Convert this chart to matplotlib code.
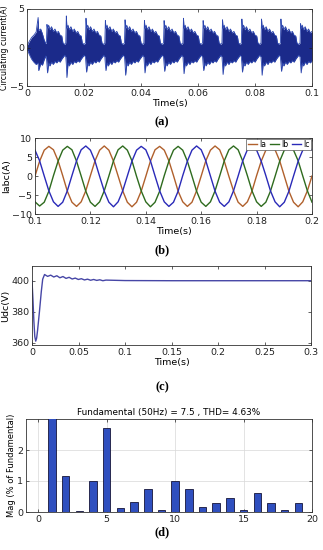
import numpy as np
import matplotlib
matplotlib.use("Agg")
import matplotlib.pyplot as plt

# ---------------- data ----------------
# (a) circulating current: envelope of the dense oscillation
head_t = [0.0, 0.0008, 0.0016, 0.0024, 0.0032, 0.0039, 0.0041, 0.0048, 0.0054, 0.0060, 0.0066]
head_up = [0.2, 0.8, 1.3, 1.6, 2.0, 3.9, 2.2, 2.4, 1.8, 1.0, 0.5]
head_lo = [-0.2, -0.9, -1.5, -1.9, -2.2, -2.0, -3.0, -2.1, -2.3, -1.6, -1.1]
burst_start = [0.0068, 0.0136, 0.0205, 0.0273, 0.0342, 0.0410, 0.0479, 0.0547,
               0.0616, 0.0684, 0.0752, 0.0821, 0.0889, 0.0958]
burst_peak = [3.0, 4.1, 3.8, 3.5, 3.6, 3.5, 3.5, 3.8, 3.5, 3.6, 3.7, 3.7, 3.7, 3.1]
burst_dip = [-3.3, -3.9, -3.2, -3.0, -3.6, -3.3, -3.1, -3.4, -3.0, -3.5, -3.2, -3.6, -3.1, -3.3]
# typical burst shape (offset in s, upper, lower)
shape_dt = [0.0000, 0.0002, 0.0004, 0.0008, 0.0012, 0.0018, 0.0024, 0.0030,
            0.0036, 0.0042, 0.0048, 0.0054, 0.0058, 0.0064]
shape_up = [0.6, None, 2.5, 2.9, 2.3, 2.7, 2.1, 2.4, 1.9, 2.1, 1.6, 1.5, 0.6, 0.4]
shape_lo = [-1.2, -2.2, None, -2.0, -2.4, -1.9, -2.2, -1.8, -2.0, -1.7, -1.9, -1.5, -1.3, -1.0]

# (b) three-phase currents, sampled every 1/600 s from 0.1 s
t_b = [0.1 + k / 600 for k in range(61)]
ia = [0.0, 3.9, 6.8, 7.8, 6.9, 4.0, 0.1, -4.0, -6.9, -8.0, -6.8, -3.9,
      0.1, 4.0, 6.8, 7.9, 6.8, 3.9, 0.0, -3.9, -6.9, -8.1, -6.9, -4.0,
      -0.1, 3.9, 6.9, 7.8, 6.8, 4.0, 0.1, -4.0, -6.8, -8.0, -6.9, -3.9,
      0.0, 4.0, 6.8, 7.9, 6.9, 3.9, -0.1, -3.9, -6.9, -8.0, -6.8, -4.0,
      0.1, 3.9, 6.8, 7.8, 6.9, 4.0, 0.0, -4.0, -6.9, -8.1, -6.8, -3.9, 0.0]
ib = [-6.8, -7.9, -6.9, -4.0, 0.1, 3.9, 6.8, 7.8, 6.9, 3.9, 0.0, -4.0,
      -6.9, -8.0, -6.8, -3.9, 0.0, 4.0, 6.9, 7.9, 6.8, 4.0, -0.1, -3.9,
      -6.8, -8.1, -6.9, -4.0, 0.1, 3.9, 6.8, 7.8, 6.8, 3.9, 0.0, -4.0,
      -6.9, -8.0, -6.8, -3.9, 0.0, 4.0, 6.9, 7.9, 6.9, 3.9, 0.1, -3.9,
      -6.8, -8.0, -6.9, -4.0, -0.1, 3.9, 6.8, 7.8, 6.8, 4.0, 0.0, -3.9, -6.9]
ic = [6.8, 4.0, 0.0, -3.9, -6.8, -8.0, -6.9, -3.9, 0.1, 4.0, 6.9, 7.9,
      6.8, 3.9, -0.1, -4.0, -6.9, -8.1, -6.8, -3.9, 0.0, 3.9, 6.8, 7.8,
      6.9, 4.0, 0.0, -3.9, -6.8, -8.0, -6.9, -4.0, 0.1, 3.9, 6.8, 7.9,
      6.9, 4.0, 0.0, -4.0, -6.9, -8.0, -6.8, -3.9, 0.0, 4.0, 6.9, 7.8,
      6.8, 3.9, 0.1, -3.9, -6.8, -8.1, -6.9, -4.0, 0.0, 3.9, 6.8, 7.9, 6.8]

# (c) dc-link voltage
t_c = [0.0, 0.001, 0.002, 0.003, 0.004, 0.005, 0.006, 0.008, 0.010, 0.0115, 0.0135,
       0.0168, 0.0201, 0.0234, 0.0267, 0.0300, 0.0333, 0.0366, 0.0399, 0.0432,
       0.0465, 0.0498, 0.0531, 0.0564, 0.0597, 0.0630, 0.0663, 0.0696, 0.0729,
       0.0762, 0.0795, 0.1, 0.15, 0.2, 0.25, 0.3]
udc = [400.0, 388.0, 374.0, 364.0, 361.0, 363.0, 368.0, 380.0, 393.0, 401.0, 404.0,
       402.8, 403.6, 402.4, 403.2, 401.9, 402.7, 401.5, 402.2, 401.1, 401.7, 400.8,
       401.3, 400.5, 401.0, 400.3, 400.8, 400.2, 400.6, 400.0, 400.4, 400.1, 400.0,
       400.0, 400.0, 400.0]

# (d) harmonic spectrum
harm = list(range(20))
mag = [0.01, 100.0, 1.15, 0.03, 1.0, 2.7, 0.13, 0.33, 0.73, 0.05,
       1.0, 0.73, 0.17, 0.28, 0.46, 0.08, 0.62, 0.3, 0.05, 0.3]

# ---------------- figure ----------------
W, H = 323, 550
fig = plt.figure(figsize=(W / 100, H / 100), dpi=100)
fs = 6.8


def box(l, t, r, b):
    return [l / W, 1 - b / H, (r - l) / W, (b - t) / H]


def style(ax):
    ax.tick_params(direction="in", length=2.5, width=0.5, labelsize=fs, pad=2,
                   top=True, right=True, colors="#222222")
    for s in ax.spines.values():
        s.set_linewidth(0.6)
        s.set_color("#333333")


def fmt(v):
    return "%g" % v


# (a)
ax1 = fig.add_axes(box(27, 9, 312, 86))
env_t, env_up, env_lo = list(head_t), list(head_up), list(head_lo)
for t0, pk, dp in zip(burst_start, burst_peak, burst_dip):
    for dt, u, lo in zip(shape_dt, shape_up, shape_lo):
        env_t.append(t0 + dt)
        env_up.append(pk if u is None else u)
        env_lo.append(dp if lo is None else lo)
ax1.fill_between(env_t, env_lo, env_up, color="#1b2a8a", lw=0)
ax1.plot(env_t, env_up, color="#2b46b0", lw=0.6)
ax1.plot(env_t, env_lo, color="#2b46b0", lw=0.6)
ax1.set_xlim(0, 0.1)
ax1.set_ylim(-5, 5)
ax1.set_yticks([-5, 0, 5])
xt = [0, 0.02, 0.04, 0.06, 0.08, 0.1]
ax1.set_xticks(xt, [fmt(v) for v in xt])
ax1.set_ylabel("Circulating current(A)", fontsize=5.6, labelpad=1)
ax1.set_xlabel("Time(s)", fontsize=fs, labelpad=1)
style(ax1)

# (b)
ax2 = fig.add_axes(box(35, 138, 312, 214))
ax2.plot(t_b, ia, color="#b0602c", lw=1.0, label="Ia")
ax2.plot(t_b, ib, color="#2e6b1e", lw=1.0, label="Ib")
ax2.plot(t_b, ic, color="#2a2ab8", lw=1.0, label="Ic")
ax2.set_xlim(0.1, 0.2)
ax2.set_ylim(-10, 10)
ax2.set_yticks([-10, -5, 0, 5, 10])
xt = [0.1, 0.12, 0.14, 0.16, 0.18, 0.2]
ax2.set_xticks(xt, [fmt(v) for v in xt])
ax2.set_ylabel("Iabc(A)", fontsize=fs, labelpad=1)
ax2.set_xlabel("Time(s)", fontsize=fs, labelpad=1)
leg = ax2.legend(loc="upper right", ncol=3, fontsize=5.5, handlelength=1.2,
                 handletextpad=0.3, columnspacing=0.5, borderpad=0.15,
                 borderaxespad=0.1, fancybox=False, framealpha=1)
leg.get_frame().set_linewidth(0.5)
leg.get_frame().set_edgecolor("#555555")
style(ax2)

# (c)
ax3 = fig.add_axes(box(32, 266, 311, 345))
ax3.plot(t_c, udc, color="#4646a6", lw=1.0)
ax3.set_xlim(0, 0.3)
ax3.set_ylim(358.5, 409.5)
ax3.set_yticks([360, 380, 400])
xt = [0, 0.05, 0.1, 0.15, 0.2, 0.25, 0.3]
ax3.set_xticks(xt, [fmt(v) for v in xt])
ax3.set_ylabel("Udc(V)", fontsize=fs, labelpad=1)
ax3.set_xlabel("Time(s)", fontsize=fs, labelpad=1)
style(ax3)

# (d)
ax4 = fig.add_axes(box(26, 419, 312, 512))
ax4.bar(harm, mag, width=0.55, color="#2f4fbf", edgecolor="#15153a", lw=0.6, zorder=3)
ax4.set_xlim(-0.9, 20)
ax4.set_ylim(0, 3)
ax4.set_yticks([0, 1, 2])
ax4.set_xticks([0, 5, 10, 15, 20])
ax4.grid(True, color="#d8d8d8", lw=0.5, zorder=0)
ax4.set_title("Fundamental (50Hz) = 7.5 , THD= 4.63%", fontsize=6.4, pad=3)
ax4.set_ylabel("Mag (% of Fundamental)", fontsize=6.0, labelpad=1)
style(ax4)

for lab, y in [("(a)", 122), ("(b)", 250), ("(c)", 387), ("(d)", 532)]:
    fig.text(162 / W, 1 - y / H, lab, ha="center", va="center",
             family="Liberation Serif", fontweight="bold", fontsize=9)

fig.savefig("out.png", dpi=100)
